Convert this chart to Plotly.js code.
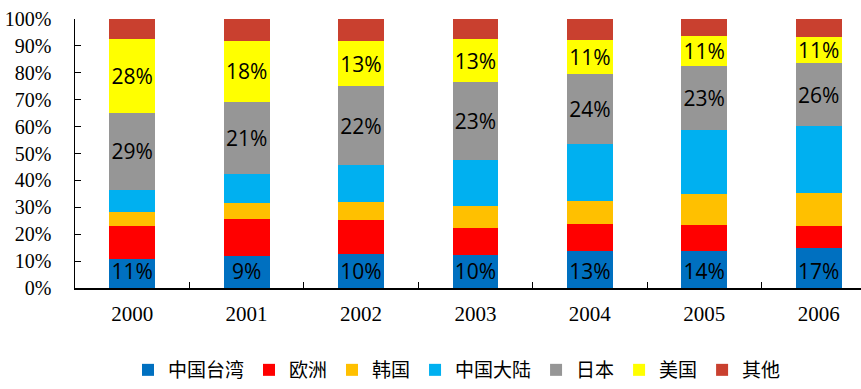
<!DOCTYPE html>
<html>
<head>
<meta charset="utf-8">
<script src="https://cdn.plot.ly/plotly-3.0.1.min.js"></script>
<style>html,body{margin:0;padding:0;background:#fff;}#chart{width:861px;height:389px;}</style>
</head>
<body>
<div id="chart"></div>
<script>
const years = ['2000','2001','2002','2003','2004','2005','2006'];
const seriesNames = ['中国台湾','欧洲','韩国','中国大陆','日本','美国','其他'];
const taiwan = [10.7, 11.8, 12.8, 12.4, 13.9, 13.9, 15.0];
const europe = [12.4, 13.7, 12.3, 9.9, 9.8, 9.6, 8.2];
const korea = [5.1, 6.2, 7.0, 8.1, 8.8, 11.6, 12.3];
const mainland = [8.2, 10.6, 13.7, 17.3, 20.9, 23.8, 24.8];
const japan = [28.7, 26.8, 29.2, 28.7, 26.0, 23.5, 23.2];
const usa = [27.5, 22.8, 16.9, 16.2, 12.7, 11.1, 9.9];
const other = [7.4, 8.1, 8.1, 7.4, 7.9, 6.5, 6.6];
const taiwanLabels = ['11%','9%','10%','10%','13%','14%','17%'];
const japanLabels = ['29%','21%','22%','23%','24%','23%','26%'];
const usaLabels = ['28%','18%','13%','13%','11%','11%','11%'];
const colors = ['#0070C0','#FF0000','#FFC000','#00B0F0','#969696','#FFFF00','#C9402F'];

const values = [taiwan, europe, korea, mainland, japan, usa, other];
const labels = [taiwanLabels, null, null, null, japanLabels, usaLabels, null];

const traces = values.map((v, i) => {
  const t = {
    type: 'bar',
    name: seriesNames[i],
    x: years,
    y: v,
    width: 0.4,
    marker: {color: colors[i], line: {width: 0}},
    hoverinfo: 'skip'
  };
  if (labels[i]) {
    t.text = labels[i];
    t.textposition = 'inside';
    t.textangle = 0;
    t.insidetextanchor = (i === 0) ? 'start' : 'middle';
    t.constraintext = 'none';
    t.textfont = {family: 'Open Sans, sans-serif', size: 21, color: '#000'};
    t.texttemplate = '%{text}';
  } else {
    t.textposition = 'none';
  }
  return t;
});

const layout = {
  width: 861,
  height: 389,
  barmode: 'stack',
  paper_bgcolor: '#fff',
  plot_bgcolor: '#fff',
  margin: {l: 75, r: 0, t: 19, b: 99},
  showlegend: true,
  legend: {
    orientation: 'h',
    x: 0.486, xanchor: 'center', xref: 'paper',
    y: -0.235, yanchor: 'top',
    font: {family: 'Noto Sans CJK SC, sans-serif', size: 19, color: '#000'},
    traceorder: 'normal',
    itemwidth: 30
  },
  xaxis: {
    type: 'category',
    range: [-0.5, 6.37],
    showline: true,
    linecolor: '#000',
    linewidth: 1.5,
    ticks: 'inside',
    tickson: 'boundaries',
    ticklen: 6,
    tickcolor: '#000',
    tickfont: {family: 'Liberation Serif, serif', size: 21, color: '#000'},
    ticklabelstandoff: 6,
    showgrid: false,
    zeroline: false,
    fixedrange: true
  },
  yaxis: {
    range: [0, 100],
    dtick: 10,
    tick0: 0,
    ticksuffix: '%',
    showline: true,
    linecolor: '#000',
    linewidth: 1.5,
    ticks: 'inside',
    ticklen: 6,
    tickcolor: '#000',
    tickfont: {family: 'Liberation Serif, serif', size: 20, color: '#000'},
    ticklabelstandoff: 18,
    showgrid: false,
    zeroline: false,
    fixedrange: true
  }
};

Plotly.newPlot('chart', traces, layout, {displayModeBar: false, staticPlot: true});
</script>
</body>
</html>
